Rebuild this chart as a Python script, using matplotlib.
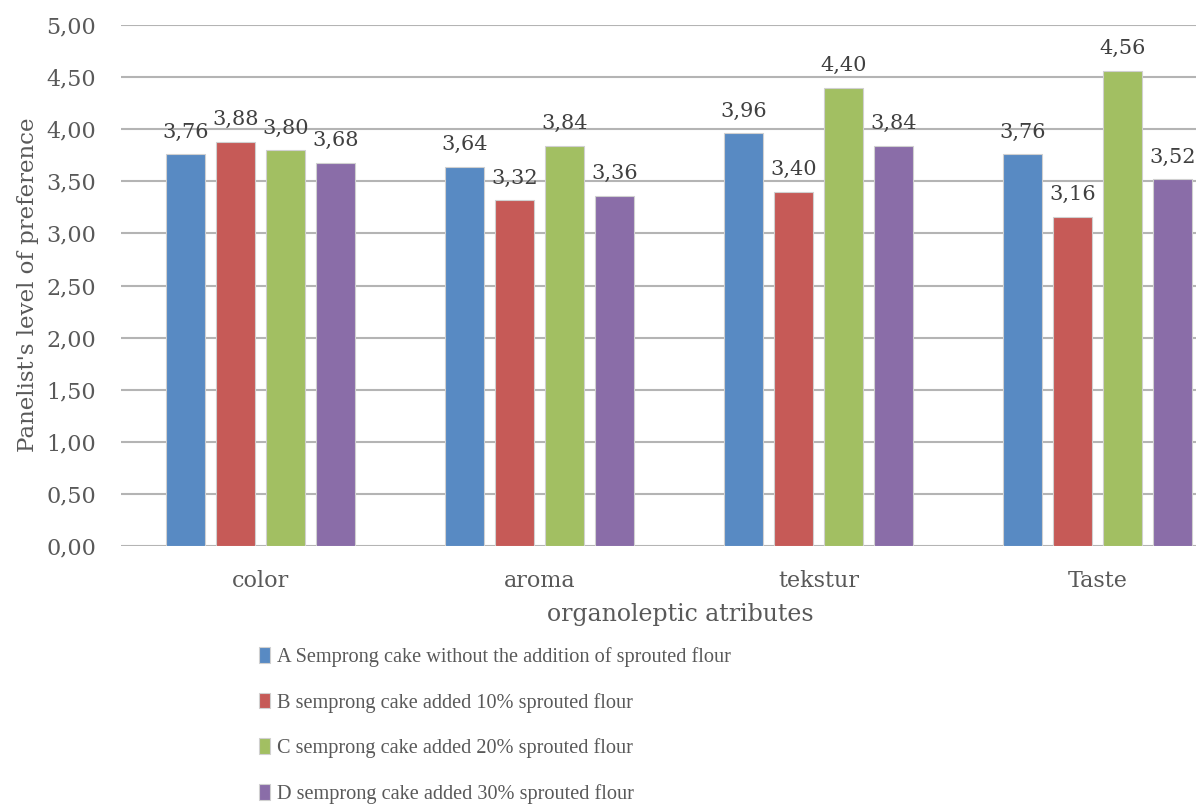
import matplotlib
matplotlib.use("Agg")
import matplotlib.pyplot as plt
import numpy as np

categories = ["color", "aroma", "tekstur", "Taste"]
series_names = [
    "A Semprong cake without the addition of sprouted flour",
    "B semprong cake added 10% sprouted flour",
    "C semprong cake added 20% sprouted flour",
    "D semprong cake added 30% sprouted flour",
]
values_A = [3.76, 3.64, 3.96, 3.76]
values_B = [3.88, 3.32, 3.40, 3.16]
values_C = [3.80, 3.84, 4.40, 4.56]
values_D = [3.68, 3.36, 3.84, 3.52]
series_values = [values_A, values_B, values_C, values_D]
colors = ["#588AC3", "#C65A57", "#A2BF62", "#8A6DA8"]
y_ticks = [0, 0.5, 1, 1.5, 2, 2.5, 3, 3.5, 4, 4.5, 5]

W, H = 1196, 807
fig = plt.figure(figsize=(W / 100, H / 100), dpi=100)
ax_left, ax_right = 121, 1196
ax_top, ax_bot = 25, 546
ax = fig.add_axes([ax_left / W, 1 - ax_bot / H, (ax_right - ax_left) / W, (ax_bot - ax_top) / H])

unit_px = 279.0
x = np.arange(len(categories))
step = 50 / unit_px
width = 39 / unit_px
text_color = "#595959"
serif = "DejaVu Serif"

handles = []
for i, (vals, col) in enumerate(zip(series_values, colors)):
    offs = (i - 1.5) * step
    bars = ax.bar(x + offs, vals, width=width, color=col, edgecolor="#d0d0d0",
                  linewidth=0.8, zorder=3, label=series_names[i])
    handles.append(bars)
    for xi, v in zip(x + offs, vals):
        ax.annotate(f"{v:.2f}".replace(".", ","), (xi, v), xytext=(0, 9),
                    textcoords="offset points", ha="center", va="bottom",
                    fontsize=15, color="#404040", family=serif)

ax.set_xlim(-0.5, -0.5 + (ax_right - ax_left) / unit_px)
ax.set_ylim(0, 5)
ax.set_yticks(y_ticks)
ax.set_yticklabels([f"{t:.2f}".replace(".", ",") for t in y_ticks],
                   fontsize=16, color=text_color, family=serif)
ax.set_xticks(x)
ax.set_xticklabels(categories, fontsize=16, color=text_color, family=serif)
ax.tick_params(axis="both", length=0)
ax.tick_params(axis="y", pad=18)
ax.tick_params(axis="x", pad=17)
ax.grid(axis="y", color="#b4b4b4", linewidth=1.5, zorder=0)
for s in ax.spines.values():
    s.set_visible(False)

fig.text(28 / W, 1 - 285 / H, "Panelist's level of preference", rotation=90,
         ha="center", va="center", fontsize=16.5, color=text_color, family=serif)
fig.text(680 / W, 1 - 615 / H, "organoleptic atributes", ha="center", va="center",
         fontsize=17, color=text_color, family=serif)

leg = fig.legend(handles=handles, labels=series_names, loc="upper left",
                 bbox_to_anchor=(259 / W, 1 - 647 / H), frameon=False,
                 prop={"family": "Liberation Serif", "size": 14.6},
                 handlelength=0.55, handleheight=0.8, handletextpad=0.35,
                 labelspacing=1.27, borderaxespad=0, borderpad=0)
for t in leg.get_texts():
    t.set_color(text_color)

fig.savefig("out.png", dpi=100)
